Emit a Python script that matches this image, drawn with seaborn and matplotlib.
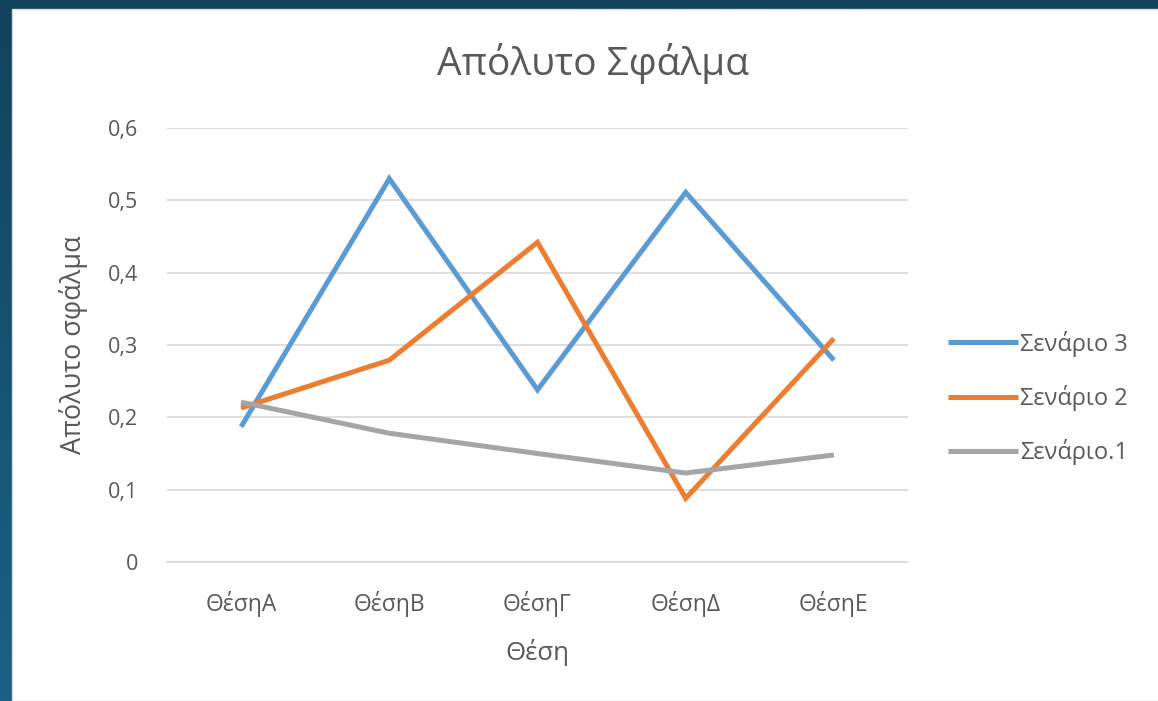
import numpy as np
import pandas as pd
import matplotlib
matplotlib.use("Agg")
import matplotlib.pyplot as plt
from matplotlib.patches import Rectangle
import seaborn as sns

# Error values per position and scenario
positions = ["ΘέσηΑ", "ΘέσηΒ", "ΘέσηΓ", "ΘέσηΔ", "ΘέσηΕ"]
scenario_3 = [0.187, 0.530, 0.238, 0.511, 0.279]
scenario_2 = [0.213, 0.279, 0.442, 0.088, 0.309]
scenario_1 = [0.221, 0.178, 0.150, 0.123, 0.148]
scenario_names = ["Σενάριο 3", "Σενάριο 2", "Σενάριο.1"]
y_ticks = [0, 0.1, 0.2, 0.3, 0.4, 0.5, 0.6]

df = pd.DataFrame({
    "Θέση": positions * 3,
    "idx": list(range(len(positions))) * 3,
    "Σφάλμα": scenario_3 + scenario_2 + scenario_1,
    "Σενάριο": sum([[n] * len(positions) for n in scenario_names], []),
})

sns.set_theme(style="white")
plt.rcParams["font.family"] = ["Open Sans", "DejaVu Sans"]

W, H = 1158, 701
fig = plt.figure(figsize=(W / 100, H / 100), dpi=100)

# dark blue frame with a vertical gradient
bg = fig.add_axes([0, 0, 1, 1], zorder=-10)
grad = np.linspace(0, 1, 256).reshape(-1, 1)
cmap = matplotlib.colors.LinearSegmentedColormap.from_list("frame", ["#12425c", "#1a6285"])
bg.imshow(grad, aspect="auto", cmap=cmap, extent=[0, 1, 0, 1], origin="upper")
bg.add_patch(Rectangle((12 / W, 0), 1, (H - 9) / H, transform=bg.transAxes,
                       facecolor="white", edgecolor="#d9d9d9", linewidth=1.0))
bg.set_xlim(0, 1)
bg.set_ylim(0, 1)
bg.axis("off")

ax = fig.add_axes([167 / W, (H - 562) / H, (908 - 167) / W, (562 - 128) / H])
palette = {"Σενάριο 3": "#5B9BD5", "Σενάριο 2": "#ED7D31", "Σενάριο.1": "#A5A5A5"}
sns.lineplot(data=df, x="idx", y="Σφάλμα", hue="Σενάριο", hue_order=scenario_names,
             palette=palette, linewidth=3.6, ax=ax, legend=True)
for ln in ax.get_lines():
    ln.set_solid_joinstyle("miter")
    ln.set_solid_capstyle("butt")

ax.set_xlim(-0.5, len(positions) - 0.5)
ax.set_ylim(0, 0.6)
ax.set_xticks(range(len(positions)))
ax.set_xticklabels(positions)
ax.set_yticks(y_ticks)
ax.set_yticklabels([("%g" % v).replace(".", ",") for v in y_ticks])
ax.yaxis.grid(True, color="#d9d9d9", linewidth=1.2)
ax.set_axisbelow(True)
for s in ax.spines.values():
    s.set_visible(False)
ax.spines["bottom"].set_visible(True)
ax.spines["bottom"].set_color("#d9d9d9")
ax.spines["bottom"].set_linewidth(1.2)
ax.set_facecolor("none")
ax.tick_params(axis="both", length=0, colors="#595959")
ax.tick_params(axis="y", pad=21, labelsize=15.5)
ax.tick_params(axis="x", pad=21, labelsize=16.5)

ax.set_xlabel("Θέση", fontsize=18.5, color="#595959", labelpad=16)
ax.set_ylabel("Απόλυτο σφάλμα", fontsize=19.5, color="#595959", labelpad=14)
fig.text(593 / W, 1 - 63 / H, "Απόλυτο Σφάλμα", ha="center", va="center",
         fontsize=28, color="#595959")

handles, labels = ax.get_legend_handles_labels()
for h in handles:
    h.set_linewidth(3.6)
ax.legend(handles, labels, loc="center left", bbox_to_anchor=(929 / W, 1 - 398 / H),
          bbox_transform=fig.transFigure, frameon=False, fontsize=17,
          labelcolor="#595959", handlelength=2.95, handletextpad=0.1,
          labelspacing=1.2, borderpad=0.3)

fig.savefig("out.png", dpi=100)
